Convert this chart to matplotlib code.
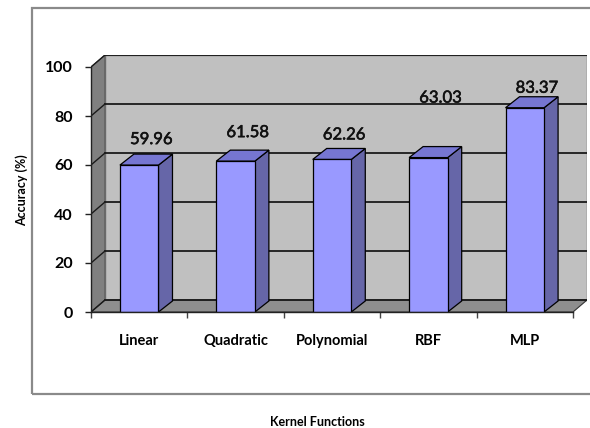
import matplotlib
matplotlib.use("Agg")
import matplotlib.pyplot as plt
import matplotlib.patheffects as pe
from matplotlib.patches import Polygon, Rectangle

kernels = ["Linear", "Quadratic", "Polynomial", "RBF", "MLP"]
accuracy = [59.96, 61.58, 62.26, 63.03, 83.37]
yticks = [0, 20, 40, 60, 80, 100]

# how far each value label sits above its bar (pixels)
label_lift = [26, 29, 25, 60, 20]

W, H = 590, 428
fig = plt.figure(figsize=(W / 100, H / 100), dpi=100)
fig.patch.set_facecolor("white")

# plot box in pixels: front axis at x=91, y=312 (0) .. 67 (100); back wall offset by (14, -12)
px_x0, px_x1, px_y0, px_y1 = 91, 587, 312, 55
ax = fig.add_axes([px_x0 / W, 1 - px_y0 / H, (px_x1 - px_x0) / W, (px_y0 - px_y1) / H])
ux = (573 - 91) / 5.0       # pixels per category
uy = (312 - 67) / 100.0     # pixels per percent
ax.set_xlim(-0.5, -0.5 + (px_x1 - px_x0) / ux)
ax.set_ylim(0, (px_y0 - px_y1) / uy)
ax.set_facecolor("none")

dx = 14 / ux
dy = 12 / uy
bdx = 14 / ux
bdy = 11 / uy
x0, x1 = -0.5, 4.5

# walls and floor
ax.add_patch(Polygon([(x0, 0), (x0 + dx, dy), (x0 + dx, 100 + dy), (x0, 100)],
                     closed=True, facecolor="#808080", edgecolor="#555555", lw=0.8, zorder=1))
ax.add_patch(Rectangle((x0 + dx, dy), x1 - x0, 100, facecolor="#c0c0c0",
                       edgecolor="#6a6a6a", lw=1.0, zorder=1))
ax.add_patch(Polygon([(x0, 0), (x1, 0), (x1 + dx, dy), (x0 + dx, dy)],
                     closed=True, facecolor="#8e8e8e", edgecolor="#333333", lw=0.8, zorder=1))

# gridlines across the back wall and down the side wall
for v in yticks:
    ax.plot([x0 + dx, x1 + dx], [v + dy, v + dy], color="#1a1a1a", lw=1.3, zorder=1.5)
    ax.plot([x0, x0 + dx], [v, v + dy], color="#1a1a1a", lw=1.0, zorder=1.5)

# 3-d bars
bw = 0.4
for i, v in enumerate(accuracy):
    l, r = i - bw / 2, i + bw / 2
    ax.add_patch(Polygon([(r, 0), (r + bdx, bdy), (r + bdx, v + bdy), (r, v)], closed=True,
                         facecolor="#6666a8", edgecolor="black", lw=0.9, zorder=3))
    ax.add_patch(Polygon([(l, v), (r, v), (r + bdx, v + bdy), (l + bdx, v + bdy)], closed=True,
                         facecolor="#7676d2", edgecolor="black", lw=0.9, zorder=3))
    ax.add_patch(Rectangle((l, 0), bw, v, facecolor="#9999ff", edgecolor="black",
                           lw=0.9, zorder=4))
    ax.annotate(f"{v:.2f}", (i, v), xytext=(12, label_lift[i]), textcoords="offset pixels",
                ha="center", va="center", fontsize=12, family="Lato", color="#111111",
                zorder=5, path_effects=[pe.withStroke(linewidth=0.4, foreground="#111111")])

# axes: front left edge and bottom edge
for s in ["top", "right"]:
    ax.spines[s].set_visible(False)
ax.spines["left"].set_bounds(0, 100)
ax.spines["bottom"].set_bounds(x0, x1)
for s in ["left", "bottom"]:
    ax.spines[s].set_color("#222222")
    ax.spines[s].set_linewidth(1.0)
    ax.spines[s].set_zorder(4.5)

ax.set_yticks(yticks)
ax.set_yticklabels([str(t) for t in yticks], fontsize=11.5, fontweight="bold", family="Lato")
ax.tick_params(axis="y", direction="out", length=4.3, width=1.0, pad=9.0, color="#222222")

ax.set_xticks([x0 + k for k in range(6)])
ax.set_xticklabels([])
ax.tick_params(axis="x", which="major", direction="out", length=4.3, width=1.0, color="#444444")
ax.set_xticks(range(len(kernels)), minor=True)
ax.set_xticklabels(kernels, minor=True, fontsize=10.5, fontweight="bold", family="Lato")
ax.tick_params(axis="x", which="minor", length=0, pad=16)

fig.text(22 / W, 1 - 190 / H, "Accuracy (%)", rotation=90, ha="center", va="center",
         fontsize=9, fontweight="bold", family="Lato")
fig.text(317 / W, 1 - 422 / H, "Kernel Functions", ha="center", va="center",
         fontsize=9, fontweight="bold", family="Lato")

# chart-area border
fig.add_artist(Rectangle((32 / W, 1 - 394 / H), 1.0, (394 - 8) / H, transform=fig.transFigure,
                         facecolor="none", edgecolor="#8a8a8a", lw=1.6))

fig.savefig("out.png", dpi=100)
